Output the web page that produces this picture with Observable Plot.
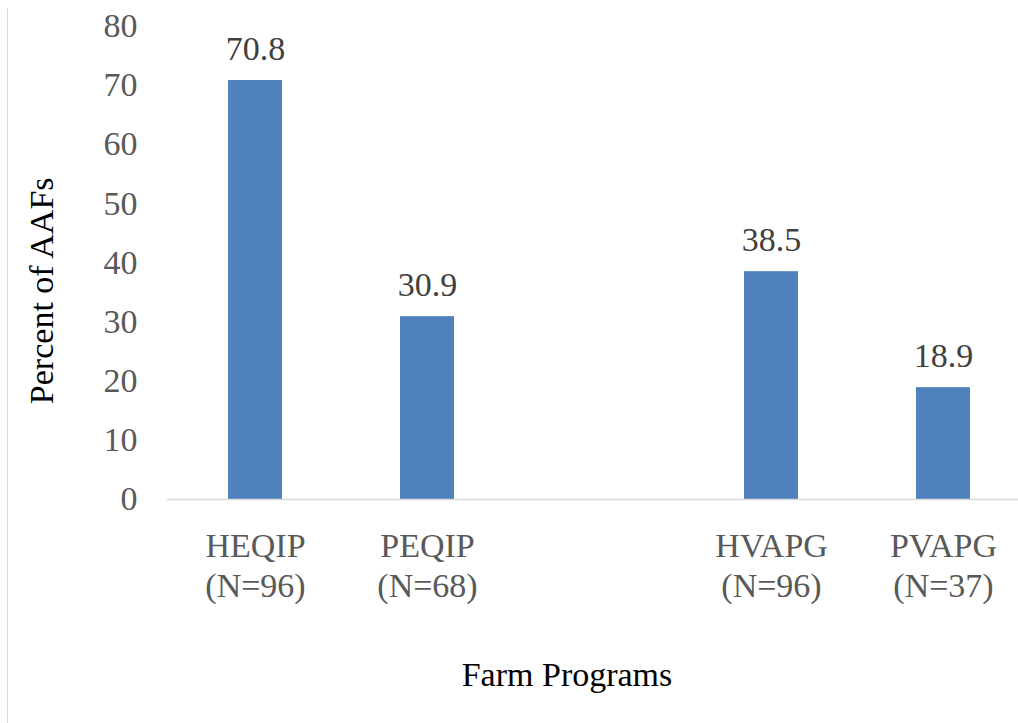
<!DOCTYPE html>
<html>
<head>
<meta charset="utf-8">
<script src="https://cdn.jsdelivr.net/npm/d3@7"></script>
<script src="https://cdn.jsdelivr.net/npm/@observablehq/plot@0.6"></script>
<style>
  html, body { margin: 0; padding: 0; background: #fff; }
  #wrap { position: relative; width: 1018px; height: 723px; }
  #border { position: absolute; left: 7px; top: 8px; bottom: 0; width: 0; border-left: 1px solid #d9d9d9; }
  #chart svg { display: block; }
  #chart svg, #chart svg text, #chart svg g { font-family: "Liberation Serif", "Tinos", "Times New Roman", Times, "DejaVu Serif", serif !important; }
</style>
</head>
<body>
<div id="wrap"><div id="border"></div><div id="chart"></div></div>
<script>
const categories = ["HEQIP\n(N=96)", "PEQIP\n(N=68)", "", "HVAPG\n(N=96)", "PVAPG\n(N=37)"];
const programs = ["HEQIP\n(N=96)", "PEQIP\n(N=68)", "HVAPG\n(N=96)", "PVAPG\n(N=37)"];
const percents = [70.8, 30.9, 38.5, 18.9];
const yTicks = [0, 10, 20, 30, 40, 50, 60, 70, 80];
const xTitle = "Farm Programs";
const yTitle = "Percent of AAFs";

const data = programs.map((p, i) => ({program: p, value: percents[i]}));
const serif = "'Liberation Serif', Tinos, 'Times New Roman', Times, 'DejaVu Serif', serif";

const chart = Plot.plot({
  width: 1018,
  height: 723,
  marginLeft: 167,
  marginRight: 0,
  marginTop: 25.6,
  marginBottom: 224,
  style: {fontFamily: serif, background: "#fff"},
  x: {domain: categories, range: [167, 1031], paddingInner: 0.687, paddingOuter: 0.3435, label: null},
  y: {domain: [0, 80], label: null},
  marks: [
    Plot.barY(data, {x: "program", y: "value", fill: "#4F81BD"}),
    Plot.ruleY([0], {stroke: "#d9d9d9", strokeWidth: 1.5}),
    Plot.axisY({ticks: yTicks, tickSize: 0, tickPadding: 30, fontSize: 34, fontFamily: serif, fill: "#595959", label: null}),
    Plot.axisX({tickSize: 0, tickPadding: 29, fontSize: 34, fontFamily: serif, lineHeight: 1.18, fill: "#595959", label: null}),
    Plot.text(data, {x: "program", y: "value", text: d => d.value.toFixed(1), lineAnchor: "bottom", dy: -21, fontSize: 34, fontFamily: serif, fill: "#404040"}),
    Plot.text([xTitle], {frameAnchor: "bottom", textAnchor: "middle", dx: -26, dy: 186, lineAnchor: "bottom", fontSize: 34, fontFamily: serif, fill: "#000"}),
    Plot.text([yTitle], {frameAnchor: "left", textAnchor: "middle", dx: -115, dy: 28, rotate: -90, lineAnchor: "bottom", fontSize: 34, fontFamily: serif, fill: "#000"})
  ]
});
document.getElementById("chart").appendChild(chart);
</script>
</body>
</html>
